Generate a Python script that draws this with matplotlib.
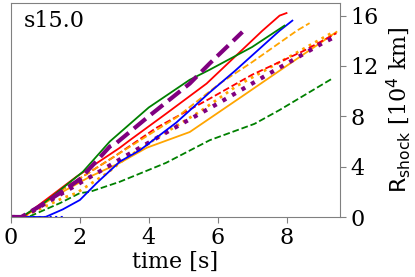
import matplotlib
matplotlib.use("Agg")
import matplotlib.pyplot as plt

# shock radius [1e4 km] vs time [s]
t_pur_dash = [0, 0.3, 0.8, 1.42, 2.0, 2.87, 3.07, 4.0, 5.19, 5.77, 6.72]
r_pur_dash = [0, 0, 0.8, 1.9, 3.0, 5.6, 5.9, 8.0, 10.6, 12.2, 14.7]

t_grn = [0, 0.3, 1.0, 2.09, 2.87, 4.0, 5.19, 5.77, 7.0, 7.94]
r_grn = [0, 0, 1.2, 3.6, 6.0, 8.7, 10.9, 11.7, 13.5, 15.2]

t_red = [0, 0.35, 1.9, 3.16, 3.45, 4.5, 5.68, 7.3, 7.8, 8.0]
r_red = [0, 0, 3.2, 5.5, 6.1, 8.2, 10.6, 14.8, 16.0, 16.2]

t_blu = [0, 1.0, 1.5, 2.0, 2.49, 3.16, 3.74, 4.8, 5.77, 6.5, 7.8, 8.17]
r_blu = [0, 0, 0.6, 1.35, 2.7, 4.4, 5.3, 7.5, 9.9, 11.6, 14.8, 15.6]

t_org = [0, 0.35, 1.5, 2.29, 3.16, 3.94, 5.19, 6.72, 8.0, 9.45]
r_org = [0, 0, 2.0, 3.2, 4.3, 5.5, 6.75, 9.6, 12.0, 14.7]

t_org_dash = [0, 0.35, 1.5, 3.0, 4.8, 6.06, 7.0, 8.3, 8.67]
r_org_dash = [0, 0, 2.2, 4.8, 7.9, 10.6, 12.3, 14.8, 15.4]

t_red_dash = [0, 0.35, 1.5, 3.0, 4.23, 5.77, 7.0, 8.5, 9.45]
r_red_dash = [0, 0, 2.2, 4.8, 7.1, 9.4, 11.3, 13.2, 14.6]

t_pur_dot = [0, 0.35, 1.5, 2.5, 3.36, 4.5, 6.0, 7.5, 9.04, 9.4]
r_pur_dot = [0, 0, 1.9, 3.5, 4.9, 6.7, 9.0, 11.4, 13.8, 14.3]

t_org_dot = [0, 0.35, 1.5, 1.9, 2.8, 3.2, 4.3, 5.5, 6.55, 8.0, 9.3]
r_org_dot = [0, 0, 1.5, 1.9, 3.5, 4.4, 6.4, 8.4, 10.4, 12.6, 14.6]

t_grn_dash = [0, 0.5, 1.42, 2.0, 2.29, 3.16, 4.5, 5.77, 7.07, 7.8, 9.33]
r_grn_dash = [0, 0, 1.1, 1.9, 2.0, 2.8, 4.3, 6.1, 7.4, 8.5, 11.0]

t_blu_dot = [0, 1.5]
r_blu_dot = [0, 0]
t_pur = [0, 0.3]
r_pur = [0, 0]

plt.rcParams["font.family"] = "DejaVu Serif"
plt.rcParams["mathtext.fontset"] = "dejavusans"

fig = plt.figure(figsize=(4.15, 2.77), dpi=100)
ax = fig.add_axes([0.0265, 0.2166, 0.7925, 0.7726])

ax.plot(t_grn_dash, r_grn_dash, color="green", ls="--", lw=1.3)
ax.plot(t_blu_dot, r_blu_dot, color="blue", ls=":", lw=1.5)
ax.plot(t_pur, r_pur, color="purple", ls="-", lw=1.5)
ax.plot(t_org, r_org, color="orange", ls="-", lw=1.3)
ax.plot(t_org_dot, r_org_dot, color="orange", ls=":", lw=2)
ax.plot(t_red_dash, r_red_dash, color="red", ls="--", lw=1.3)
ax.plot(t_pur_dot, r_pur_dot, color="purple", ls=":", lw=3)
ax.plot(t_org_dash, r_org_dash, color="orange", ls="--", lw=1.3)
ax.plot(t_blu, r_blu, color="blue", ls="-", lw=1.3)
ax.plot(t_red, r_red, color="red", ls="-", lw=1.3)
ax.plot(t_grn, r_grn, color="green", ls="-", lw=1.3)
ax.plot(t_pur_dash, r_pur_dash, color="purple", ls="--", lw=3)

ax.set_xlim(0, 9.55)
ax.set_ylim(0, 17)
ax.set_xticks([0, 2, 4, 6, 8])
ax.set_yticks([0, 4, 8, 12, 16])
ax.yaxis.tick_right()
ax.yaxis.set_label_position("right")
ax.tick_params(labelsize=16, color="gray", length=4)
for s in ax.spines.values():
    s.set_color("gray")

ax.set_xlabel("time [s]", fontsize=16, labelpad=1)
ax.set_ylabel(r"$\mathrm{R_{shock}}$ [10$^4$ km]", fontsize=16, labelpad=4)
ax.text(0.04, 0.965, "s15.0", transform=ax.transAxes, fontsize=16,
        va="top", ha="left")

fig.savefig("out.png", dpi=100)
